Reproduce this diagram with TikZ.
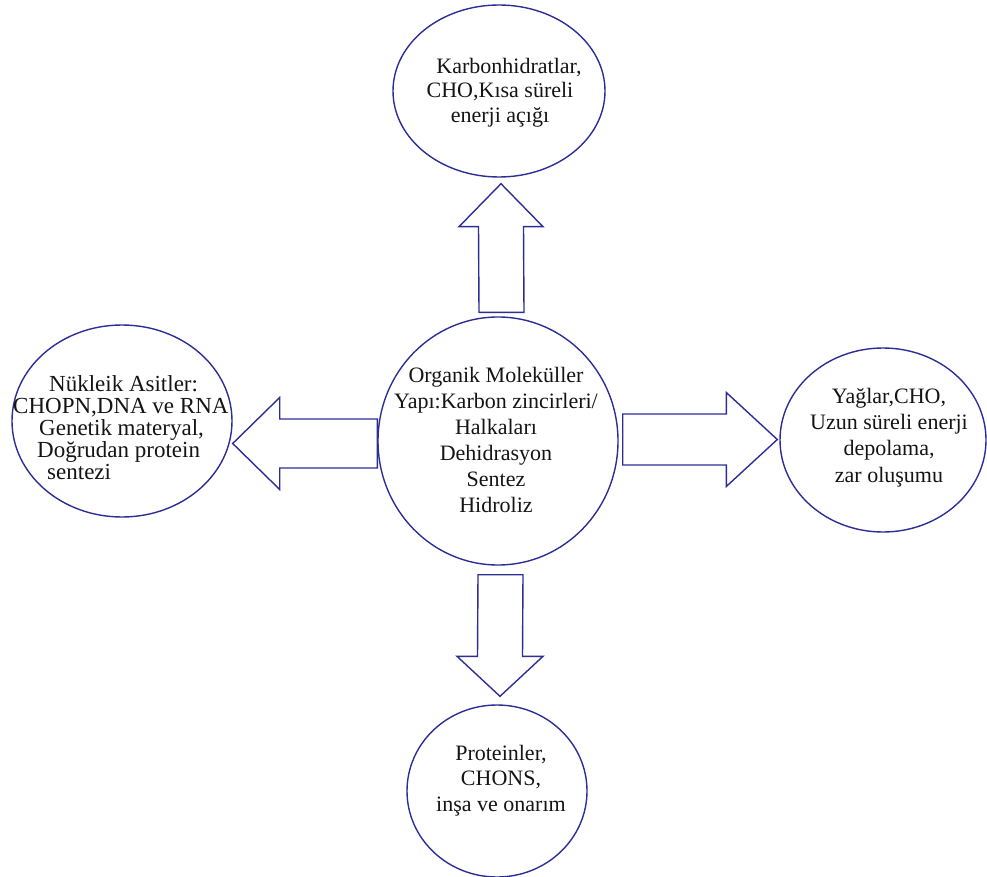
\documentclass[tikz,border=0pt]{standalone}
\usepackage{fontspec}
\setmainfont{Liberation Serif}
\usetikzlibrary{shapes.geometric,calc}
\definecolor{outl}{RGB}{45,45,150}
\definecolor{txt}{RGB}{20,20,20}
\begin{document}
\begin{tikzpicture}[x=1pt,y=-1pt,
  blob/.style={draw=outl,line width=1.4pt,ellipse,inner sep=0pt},
  lbl/.style={text=txt,inner sep=0pt},
  barrow/.style={draw=outl,line width=1.4pt,line join=miter}]
\useasboundingbox (0,0) rectangle (987,877);
% ellipses
\node[blob,minimum width=240pt,minimum height=248pt] (center) at (498,441) {};
\node[blob,minimum width=212pt,minimum height=172pt] (carb) at (499,91) {};
\node[blob,minimum width=220pt,minimum height=192pt] (nuk) at (122,421) {};
\node[blob,minimum width=206pt,minimum height=184pt] (yag) at (883,440) {};
\node[blob,minimum width=180pt,minimum height=172pt] (prot) at (497,791) {};
% texts
\node[lbl,align=center,font=\fontsize{22}{26}\selectfont] (centerT) at (496,440)
  {Organik Moleküller\\Yapı:Karbon zincirleri/\\Halkaları\\Dehidrasyon\\Sentez\\Hidroliz};
\node[lbl,align=center,font=\fontsize{22}{24.5}\selectfont] (carbT) at (500,92.5)
  {\hspace*{18pt}Karbonhidratlar,\\CHO,Kısa süreli\\enerji açığı};
\node[lbl,align=left,anchor=west,font=\fontsize{23}{22}\selectfont] (nukT) at (13,427.5)
  {\hspace*{36pt}Nükleik Asitler:\\CHOPN,DNA ve RNA\\\hspace*{26pt}Genetik materyal,\\\hspace*{24pt}Doğrudan protein\\\hspace*{34pt}sentezi};
\node[lbl,align=center,font=\fontsize{22}{26.3}\selectfont] (yagT) at (889,437.5)
  {Yağlar,CHO,\\Uzun süreli enerji\\depolama,\\zar oluşumu};
\node[lbl,align=center,font=\fontsize{22}{25.5}\selectfont] (protT) at (501,780.5)
  {Proteinler,\\CHONS,\\inşa ve onarım};
% block arrows
\coordinate (uT) at ($(center.north)+(3.5,-4)$);
\coordinate (uH) at ($(carb.south)+(2,6)$);
\draw[barrow] ($(uT)+(-22.5,0)$) -- ($(uH)+(-22.5,43)$) -- ($(uH)+(-42,43)$) -- (uH)
  -- ($(uH)+(42,43)$) -- ($(uH)+(22.5,43)$) -- ($(uT)+(22.5,0)$) -- cycle;
\coordinate (lT) at ($(center.west)+(0,2.5)$);
\coordinate (lH) at ($(nuk.east)+(0,22.5)$);
\draw[barrow] ($(lT)+(0,-24.5)$) -- ($(lH)+(47,-24.5)$) -- ($(lH)+(47,-46)$) -- (lH)
  -- ($(lH)+(47,46)$) -- ($(lH)+(47,24.5)$) -- ($(lT)+(0,24.5)$) -- cycle;
\coordinate (rT) at ($(center.east)+(4,-1.5)$);
\coordinate (rH) at ($(yag.west)+(-2,-0.5)$);
\draw[barrow] ($(rT)+(0,-25.5)$) -- ($(rH)+(-51,-25.5)$) -- ($(rH)+(-51,-47)$) -- (rH)
  -- ($(rH)+(-51,47)$) -- ($(rH)+(-51,25.5)$) -- ($(rT)+(0,25.5)$) -- cycle;
\coordinate (dT) at ($(center.south)+(2.5,9)$);
\coordinate (dH) at ($(prot.north)+(3,-8)$);
\draw[barrow] ($(dT)+(-22.5,0)$) -- ($(dH)+(-22.5,-40)$) -- ($(dH)+(-43,-40)$) -- (dH)
  -- ($(dH)+(43,-40)$) -- ($(dH)+(22.5,-40)$) -- ($(dT)+(22.5,0)$) -- cycle;
\end{tikzpicture}
\end{document}
